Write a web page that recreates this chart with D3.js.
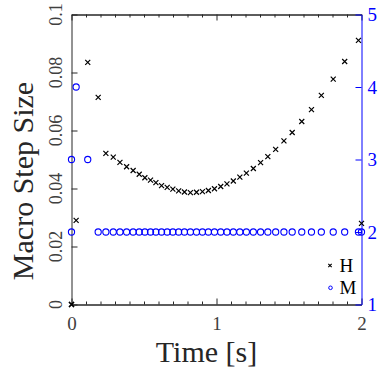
<!DOCTYPE html>
<meta charset="utf-8"/>
<style>
  body { margin: 0; background: #fff; }
  text { font-family: "Liberation Serif", "Times New Roman", serif; }
</style>
<svg width="378" height="374"></svg>
<script src="https://cdn.jsdelivr.net/npm/d3@7/dist/d3.min.js"></script>
<script>

// simulation time of each macro step [s]
var time = [0, 0, 0.032, 0.112, 0.184, 0.237, 0.288, 0.334, 0.380, 0.425,
            0.467, 0.506, 0.545, 0.582, 0.621, 0.660, 0.699, 0.739, 0.779, 0.820,
            0.862, 0.903, 0.944, 0.986, 1.029, 1.072, 1.116, 1.161, 1.206, 1.254,
            1.304, 1.354, 1.408, 1.465, 1.522, 1.588, 1.655, 1.723, 1.805, 1.884,
            1.979, 2.0];
// macro step size H
var stepH = [0, 0, 0.029, 0.0835, 0.0714, 0.0521, 0.0508, 0.0490, 0.0475, 0.0462,
             0.0449, 0.0437, 0.0429, 0.0420, 0.0410, 0.0404, 0.0398, 0.0392, 0.0388, 0.0386,
             0.0387, 0.0389, 0.0393, 0.0399, 0.0407, 0.0416, 0.0426, 0.0439, 0.0453, 0.0469,
             0.0489, 0.0510, 0.0535, 0.0564, 0.0593, 0.0631, 0.0672, 0.0721, 0.0777, 0.0838,
             0.0911, 0.028];
// order M (right axis)
var orderM = [2, 3, 4, 3, 2, 2, 2, 2, 2, 2,
              2, 2, 2, 2, 2, 2, 2, 2, 2, 2,
              2, 2, 2, 2, 2, 2, 2, 2, 2, 2,
              2, 2, 2, 2, 2, 2, 2, 2, 2, 2,
              2, 2];

var timeTicks = [0, 1, 2];
var timeMinor = [0.1, 0.2, 0.3, 0.4, 0.5, 0.6, 0.7, 0.8, 0.9,
                 1.1, 1.2, 1.3, 1.4, 1.5, 1.6, 1.7, 1.8, 1.9];
var stepTicks = [0, 0.02, 0.04, 0.06, 0.08, 0.1];
var orderTicks = [1, 2, 3, 4, 5];

var svg = d3.select("svg"),
    pl = 71.5, pr = 361.5, pt = 14.5, pb = 304.5,
    ink = "#262626", blue = "#0000ff";

var x = d3.scaleLinear().domain([0, 2]).range([pl, pr]);
var y = d3.scaleLinear().domain([0, 0.1]).range([pb, pt]);
var y2 = d3.scaleLinear().domain([1, 5]).range([pb, pt]);

function styleAxis(g, color) {
  g.select(".domain").attr("stroke", color);
  g.selectAll(".tick line").attr("stroke", color);
  g.selectAll(".tick text").attr("fill", color)
      .style("font-family", "Liberation Serif").style("font-size", "18px");
}

// bottom axis (ticks inward)
svg.append("g")
    .attr("transform", "translate(0," + pb + ")")
    .call(d3.axisBottom(x).tickValues(timeMinor).tickSize(-3).tickSizeOuter(0).tickFormat(""))
    .call(styleAxis, ink);
svg.append("g")
    .attr("transform", "translate(0," + pb + ")")
    .call(d3.axisBottom(x).tickValues(timeTicks).tickSize(-6).tickSizeOuter(0)
          .tickPadding(12).tickFormat(d3.format("d")))
    .call(styleAxis, ink)
    .selectAll(".tick text").attr("fill", "#404040").style("font-size", "19px");

// top axis mirror
svg.append("g")
    .attr("transform", "translate(0," + pt + ")")
    .call(d3.axisTop(x).tickValues(timeMinor).tickSize(-3).tickSizeOuter(0).tickFormat(""))
    .call(styleAxis, ink);
svg.append("g")
    .attr("transform", "translate(0," + pt + ")")
    .call(d3.axisTop(x).tickValues(timeTicks).tickSize(-6).tickSizeOuter(0).tickFormat(""))
    .call(styleAxis, ink);

// left axis, rotated labels
svg.append("g")
    .attr("transform", "translate(" + pl + ",0)")
    .call(d3.axisLeft(y).tickValues(stepTicks).tickSize(-6).tickSizeOuter(0).tickFormat(""))
    .call(styleAxis, ink);
svg.append("g").selectAll("text")
    .data(stepTicks)
  .enter().append("text")
    .attr("transform", function(d) { return "translate(62," + y(d) + ") rotate(-90)"; })
    .attr("text-anchor", "middle")
    .attr("fill", "#404040")
    .style("font-size", "18px")
    .text(d3.format(""));

// right axis (blue)
svg.append("g")
    .attr("transform", "translate(" + pr + ",0)")
    .call(d3.axisRight(y2).tickValues(orderTicks).tickSize(-6).tickSizeOuter(0)
          .tickPadding(6).tickFormat(d3.format("d")))
    .call(styleAxis, blue)
    .selectAll(".tick text").style("font-size", "19px");

// axis titles
svg.append("text")
    .attr("transform", "translate(33,181) rotate(-90)")
    .attr("text-anchor", "middle")
    .attr("fill", ink)
    .style("font-size", "30px")
    .text("Macro Step Size");

svg.append("text")
    .attr("x", 206.5)
    .attr("y", 362)
    .attr("text-anchor", "middle")
    .attr("fill", ink)
    .style("font-size", "30px")
    .text("Time [s]");

// M circles on right axis
svg.append("g").selectAll("circle")
    .data(time)
  .enter().append("circle")
    .attr("cx", function(d) { return x(d); })
    .attr("cy", function(d, i) { return y2(orderM[i]); })
    .attr("r", 3.1)
    .attr("fill", "none")
    .attr("stroke", blue)
    .attr("stroke-width", 1.1);

// H crosses on left axis
var s = 2.5;
svg.append("g").selectAll("path")
    .data(time)
  .enter().append("path")
    .attr("transform", function(d, i) { return "translate(" + x(d) + "," + y(stepH[i]) + ")"; })
    .attr("d", "M" + -s + "," + -s + "L" + s + "," + s + "M" + -s + "," + s + "L" + s + "," + -s)
    .attr("stroke", "#000")
    .attr("stroke-width", 1.2);

// legend
var lg = svg.append("g");
lg.append("path")
    .attr("transform", "translate(330,265.5)")
    .attr("d", "M-1.7,-1.7L1.7,1.7M-1.7,1.7L1.7,-1.7")
    .attr("stroke", "#000")
    .attr("stroke-width", 1.1);
lg.append("text").attr("x", 339.5).attr("y", 271.5)
    .attr("fill", "#000").style("font-size", "19px").text("H");
lg.append("circle").attr("cx", 330.5).attr("cy", 287.8).attr("r", 1.8)
    .attr("fill", "none").attr("stroke", blue);
lg.append("text").attr("x", 339.5).attr("y", 293.5)
    .attr("fill", "#000").style("font-size", "19px").text("M");

</script>
